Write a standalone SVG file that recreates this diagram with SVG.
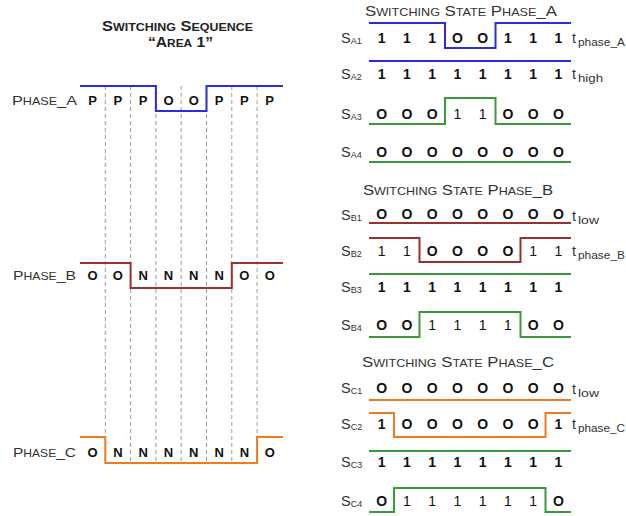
<svg xmlns="http://www.w3.org/2000/svg" width="626" height="516" viewBox="0 0 626 516">
  <style>
    text { font-family: "Liberation Sans", Arial, sans-serif; }
    .lbl { fill: #333; font-size: 13.5px; }
    .ttl { fill: #333; font-size: 14px; }
    .ttlb { fill: #222; font-size: 14.5px; font-weight: bold; }
    .sc { font-size: 10.5px; }
    .scb { font-size: 11px; }
    .seq { fill: #111; font-size: 13px; font-weight: bold; text-anchor: middle; }
    .bit { fill: #111; font-size: 14px; font-weight: bold; text-anchor: middle; }
    .thin { font-weight: normal; }
    .sig { fill: #333; font-size: 14.5px; }
    .sub { fill: #333; font-size: 9px; }
    .tsub { fill: #333; font-size: 11px; }
    .wave { fill: none; stroke-width: 2; }
    .blue { stroke: #2b2be0; }
    .red { stroke: #9c3030; }
    .green { stroke: #3a9a3a; }
    .orange { stroke: #f07a20; }
    .grid { stroke: #9a9a9a; stroke-width: 1; stroke-dasharray: 4 3; }
  </style>

  <!-- Left: switching sequence of the three phases -->
  <g id="sequence-title">
    <text class="ttlb" x="102" y="31" textLength="151" lengthAdjust="spacingAndGlyphs">S<tspan class="scb">WITCHING</tspan> S<tspan class="scb">EQUENCE</tspan></text>
    <text class="ttlb" x="148" y="47" textLength="65" lengthAdjust="spacingAndGlyphs">“A<tspan class="scb">REA</tspan> 1”</text>
  </g>

  <g id="sequence-grid">
    <line class="grid" x1="105.3" y1="86" x2="105.3" y2="463"/>
    <line class="grid" x1="130.6" y1="86" x2="130.6" y2="463"/>
    <line class="grid" x1="155.9" y1="86" x2="155.9" y2="463"/>
    <line class="grid" x1="181.2" y1="86" x2="181.2" y2="463"/>
    <line class="grid" x1="206.5" y1="86" x2="206.5" y2="463"/>
    <line class="grid" x1="231.8" y1="86" x2="231.8" y2="463"/>
    <line class="grid" x1="257.1" y1="86" x2="257.1" y2="463"/>
  </g>

  <g id="seq-phase-a">
    <text class="lbl" x="12" y="105" textLength="65" lengthAdjust="spacingAndGlyphs">P<tspan class="sc">HASE</tspan>_A</text>
    <path class="wave blue" d="M80,86 H155.9 V111 H206.5 V86 H283"/>
    <text class="seq" x="92.6 117.9 143.2 168.5 193.8 219.1 244.4 269.7" y="105">PPPOOPPP</text>
  </g>

  <g id="seq-phase-b">
    <text class="lbl" x="13" y="280" textLength="63" lengthAdjust="spacingAndGlyphs">P<tspan class="sc">HASE</tspan>_B</text>
    <path class="wave red" d="M80,263 H130.6 V288 H231.8 V263 H283"/>
    <text class="seq" x="92.6 117.9 143.2 168.5 193.8 219.1 244.4 269.7" y="280">OONNNNOO</text>
  </g>

  <g id="seq-phase-c">
    <text class="lbl" x="13" y="457" textLength="63" lengthAdjust="spacingAndGlyphs">P<tspan class="sc">HASE</tspan>_C</text>
    <path class="wave orange" d="M80,437 H105.3 V463 H257.1 V437 H283"/>
    <text class="seq" x="92.6 117.9 143.2 168.5 193.8 219.1 244.4 269.7" y="457">ONNNNNNO</text>
  </g>

  <!-- Right: switching states of each switch -->
  <g id="state-phase-a">
    <text class="ttl" x="365" y="16" textLength="192" lengthAdjust="spacingAndGlyphs">S<tspan class="sc">WITCHING</tspan> S<tspan class="sc">TATE</tspan> P<tspan class="sc">HASE</tspan>_A</text>

    <g id="sa1">
      <text class="sig" x="341" y="43">S<tspan class="sub" dy="1">A1</tspan></text>
      <path class="wave blue" d="M369,23 H445 V48 H495.5 V23 H571"/>
      <text class="bit" x="381.6 406.9 432.1 457.4 482.6 507.9 533.1 558.4" y="43">111OO111</text>
      <text class="sig" x="572" y="43">t</text>
      <text class="tsub" x="578" y="46" textLength="47" lengthAdjust="spacingAndGlyphs">phase_A</text>
    </g>
    <g id="sa2">
      <text class="sig" x="341" y="79">S<tspan class="sub" dy="1">A2</tspan></text>
      <path class="wave blue" d="M369,61 H571"/>
      <text class="bit" x="381.6 406.9 432.1 457.4 482.6 507.9 533.1 558.4" y="79">11111111</text>
      <text class="sig" x="572" y="79">t</text>
      <text class="tsub" x="578" y="82" textLength="25" lengthAdjust="spacingAndGlyphs">high</text>
    </g>
    <g id="sa3">
      <text class="sig" x="341" y="119">S<tspan class="sub" dy="1">A3</tspan></text>
      <path class="wave green" d="M369,124 H445 V98 H495.5 V124 H571"/>
      <text class="bit" y="119"><tspan x="381.6 406.9 432.1">OOO</tspan><tspan class="thin" x="457.4 482.6">11</tspan><tspan x="507.9 533.1 558.4">OOO</tspan></text>
    </g>
    <g id="sa4">
      <text class="sig" x="341" y="157">S<tspan class="sub" dy="1">A4</tspan></text>
      <path class="wave green" d="M369,162 H571"/>
      <text class="bit" x="381.6 406.9 432.1 457.4 482.6 507.9 533.1 558.4" y="157">OOOOOOOO</text>
    </g>
  </g>

  <g id="state-phase-b">
    <text class="ttl" x="363" y="195" textLength="190" lengthAdjust="spacingAndGlyphs">S<tspan class="sc">WITCHING</tspan> S<tspan class="sc">TATE</tspan> P<tspan class="sc">HASE</tspan>_B</text>

    <g id="sb1">
      <text class="sig" x="341" y="220">S<tspan class="sub" dy="1">B1</tspan></text>
      <path class="wave red" d="M369,223 H571"/>
      <text class="bit" x="381.6 406.9 432.1 457.4 482.6 507.9 533.1 558.4" y="219">OOOOOOOO</text>
      <text class="sig" x="572" y="221">t</text>
      <text class="tsub" x="578" y="224" textLength="21" lengthAdjust="spacingAndGlyphs">low</text>
    </g>
    <g id="sb2">
      <text class="sig" x="341" y="256">S<tspan class="sub" dy="1">B2</tspan></text>
      <path class="wave red" d="M369,238 H419.5 V262 H520.5 V238 H571"/>
      <text class="bit" y="256"><tspan class="thin" x="381.6 406.9">11</tspan><tspan x="432.1 457.4 482.6 507.9">OOOO</tspan><tspan class="thin" x="533.1 558.4">11</tspan></text>
      <text class="sig" x="572" y="256">t</text>
      <text class="tsub" x="578" y="259" textLength="47" lengthAdjust="spacingAndGlyphs">phase_B</text>
    </g>
    <g id="sb3">
      <text class="sig" x="341" y="292">S<tspan class="sub" dy="1">B3</tspan></text>
      <path class="wave green" d="M369,274 H571"/>
      <text class="bit" x="381.6 406.9 432.1 457.4 482.6 507.9 533.1 558.4" y="292">11111111</text>
    </g>
    <g id="sb4">
      <text class="sig" x="341" y="330">S<tspan class="sub" dy="1">B4</tspan></text>
      <path class="wave green" d="M369,337 H419.5 V312 H520.5 V337 H571"/>
      <text class="bit" y="330"><tspan x="381.6 406.9">OO</tspan><tspan class="thin" x="432.1 457.4 482.6 507.9">1111</tspan><tspan x="533.1 558.4">OO</tspan></text>
    </g>
  </g>

  <g id="state-phase-c">
    <text class="ttl" x="362" y="367" textLength="192" lengthAdjust="spacingAndGlyphs">S<tspan class="sc">WITCHING</tspan> S<tspan class="sc">TATE</tspan> P<tspan class="sc">HASE</tspan>_C</text>

    <g id="sc1">
      <text class="sig" x="341" y="393">S<tspan class="sub" dy="1">C1</tspan></text>
      <path class="wave orange" d="M369,400 H571"/>
      <text class="bit" x="381.6 406.9 432.1 457.4 482.6 507.9 533.1 558.4" y="393">OOOOOOOO</text>
      <text class="sig" x="572" y="394">t</text>
      <text class="tsub" x="578" y="397" textLength="21" lengthAdjust="spacingAndGlyphs">low</text>
    </g>
    <g id="sc2">
      <text class="sig" x="341" y="429">S<tspan class="sub" dy="1">C2</tspan></text>
      <path class="wave orange" d="M369,413 H394 V437 H545.5 V413 H571"/>
      <text class="bit" y="429"><tspan x="381.6">1</tspan><tspan x="406.9 432.1 457.4 482.6 507.9 533.1">OOOOOO</tspan><tspan x="558.4">1</tspan></text>
      <text class="sig" x="572" y="429">t</text>
      <text class="tsub" x="578" y="432" textLength="47" lengthAdjust="spacingAndGlyphs">phase_C</text>
    </g>
    <g id="sc3">
      <text class="sig" x="341" y="467">S<tspan class="sub" dy="1">C3</tspan></text>
      <path class="wave green" d="M369,451 H571"/>
      <text class="bit" x="381.6 406.9 432.1 457.4 482.6 507.9 533.1 558.4" y="467">11111111</text>
    </g>
    <g id="sc4">
      <text class="sig" x="341" y="506">S<tspan class="sub" dy="1">C4</tspan></text>
      <path class="wave green" d="M369,512 H394 V488 H545.5 V512 H571"/>
      <text class="bit" y="506"><tspan x="381.6">O</tspan><tspan class="thin" x="406.9 432.1 457.4 482.6 507.9 533.1">111111</tspan><tspan x="558.4">O</tspan></text>
    </g>
  </g>
</svg>
